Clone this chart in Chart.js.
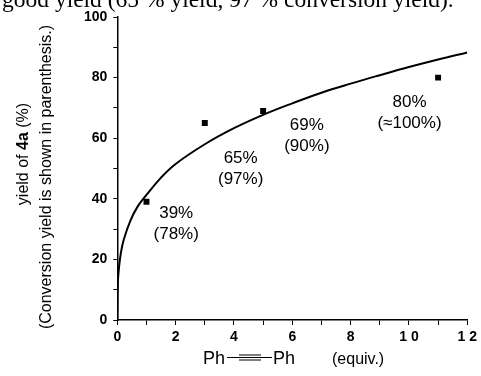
<!DOCTYPE html>
<html>
<head>
<meta charset="utf-8">
<script src="https://cdn.jsdelivr.net/npm/chart.js@4/dist/chart.umd.min.js"></script>
<style>
  html, body { margin: 0; padding: 0; background: #fff; }
  #wrap { width: 481px; height: 376px; position: relative; }
</style>
</head>
<body>
<div id="wrap"><canvas id="chart"></canvas></div>
<script>
// fitted curve
const curveX = [0, 0.02, 0.06, 0.12, 0.22, 0.45, 0.7, 1, 1.5, 2, 3, 4, 5, 6, 7, 8, 9, 10, 11, 12];
const curveY = [0, 12.5, 17.5, 22, 26.5, 32.8, 37.5, 41.3, 47, 51.5, 58, 63.3, 67.7, 71.5, 75, 78, 80.8, 83.5, 86, 88.3];

// measured yields of 4a
const equivX = [1, 3, 5, 11];
const yieldY = [39, 65, 69, 80];
const yieldLabels = ['39%', '65%', '69%', '80%'];
const conversionLabels = ['(78%)', '(97%)', '(90%)', '(\u2248100%)'];
// where each pair of labels sits, in data units
const labelX = [2.02, 4.23, 6.5, 10.02];
const labelY = [31.9, 50, 60.9, 68.3];

const xTicks = [0, 2, 4, 6, 8, 10, 12];
const yTicks = [0, 20, 40, 60, 80, 100];

const tickFont = { family: '"Liberation Sans", Arial, sans-serif', size: 14, weight: 'bold' };

const annotationPlugin = {
  id: 'annotations',
  afterDatasetsDraw(chart) {
    const ctx = chart.ctx;
    const xs = chart.scales.x;
    const ys = chart.scales.y;
    ctx.save();
    ctx.fillStyle = '#000';
    ctx.textAlign = 'center';
    ctx.textBaseline = 'middle';
    ctx.font = '17px "Liberation Sans", Arial, sans-serif';
    labelX.forEach((lx, i) => {
      const px = xs.getPixelForValue(lx);
      const py = ys.getPixelForValue(labelY[i]);
      ctx.fillText(yieldLabels[i], px, py - 10.5);
      ctx.fillText(conversionLabels[i], px, py + 10.5);
    });
    ctx.restore();
  }
};

const textPlugin = {
  id: 'extraText',
  afterDraw(chart) {
    const ctx = chart.ctx;
    ctx.save();
    ctx.fillStyle = '#000';
    ctx.strokeStyle = '#000';

    // cut-off line of body text above the figure
    ctx.font = '23.5px "Liberation Serif", "Times New Roman", serif';
    ctx.textAlign = 'left';
    ctx.textBaseline = 'alphabetic';
    ctx.fillText('good yield (65 % yield, 97 % conversion yield).', 2, 7, 452);

    // y axis title, two rotated lines
    const normal = '16px "Liberation Sans", Arial, sans-serif';
    const bold = 'bold 16px "Liberation Sans", Arial, sans-serif';
    const parts = [['yield of ', normal], ['4a', bold], [' (%)', normal]];
    ctx.save();
    ctx.translate(24, 154);
    ctx.rotate(-Math.PI / 2);
    ctx.textBaseline = 'middle';
    let total = 0;
    parts.forEach(([t, f]) => { ctx.font = f; total += ctx.measureText(t).width; });
    let cx = -total / 2;
    parts.forEach(([t, f]) => {
      ctx.font = f;
      ctx.fillText(t, cx, 0);
      cx += ctx.measureText(t).width;
    });
    ctx.restore();

    ctx.save();
    ctx.translate(47, 177);
    ctx.rotate(-Math.PI / 2);
    ctx.font = normal;
    ctx.textAlign = 'center';
    ctx.textBaseline = 'middle';
    ctx.fillText('(Conversion yield is shown in parenthesis.)', 0, 0);
    ctx.restore();

    // x axis title: Ph-C≡C-Ph (equiv.)
    ctx.font = '18px "Liberation Sans", Arial, sans-serif';
    ctx.textAlign = 'left';
    ctx.textBaseline = 'alphabetic';
    ctx.fillText('Ph', 203, 364);
    ctx.fillText('Ph', 273, 364);
    ctx.lineWidth = 1;
    ctx.beginPath();
    ctx.moveTo(227, 357.5); ctx.lineTo(272, 357.5);
    ctx.moveTo(239, 355); ctx.lineTo(261, 355);
    ctx.moveTo(239, 360); ctx.lineTo(261, 360);
    ctx.stroke();
    ctx.font = '16px "Liberation Sans", Arial, sans-serif';
    ctx.fillText('(equiv.)', 332, 364);
    ctx.restore();
  }
};

const ctx = document.getElementById('chart').getContext('2d');
new Chart(ctx, {
  type: 'scatter',
  data: {
    datasets: [
      {
        type: 'line',
        label: 'fit',
        data: curveX.map((x, i) => ({ x, y: curveY[i] })),
        borderColor: '#000',
        borderWidth: 2,
        pointRadius: 0,
        tension: 0.4,
        fill: false,
      },
      {
        label: 'yield',
        data: equivX.map((x, i) => ({ x, y: yieldY[i] })),
        pointStyle: 'rect',
        pointRadius: 4.2,
        backgroundColor: '#000',
        borderColor: '#000',
        borderWidth: 0,
      },
    ],
  },
  options: {
    animation: false,
    responsive: true,
    maintainAspectRatio: false,
    layout: { padding: { left: 0, right: 10, top: 17, bottom: 0 } },
    plugins: {
      legend: { display: false },
      tooltip: { enabled: false },
      title: { display: false },
    },
    scales: {
      x: {
        type: 'linear',
        min: 0,
        max: 12,
        afterFit: (scale) => { scale.height = 56; },
        afterBuildTicks: (scale) => {
          scale.ticks = [];
          for (let v = 0; v <= 12; v++) scale.ticks.push({ value: v });
        },
        ticks: {
          color: '#000',
          font: tickFont,
          padding: 4,
          maxRotation: 0,
          autoSkip: false,
          callback: (v) => (xTicks.includes(v) ? String(v).split('').join(' ') : ''),
        },
        grid: { drawOnChartArea: false, drawTicks: true, tickLength: 5, color: '#000', lineWidth: 1 },
        border: { color: '#000', width: 1.5 },
      },
      y: {
        min: 0,
        max: 100,
        afterFit: (scale) => { scale.width = 117.3; },
        afterBuildTicks: (scale) => {
          scale.ticks = [];
          for (let v = 0; v <= 100; v += 10) scale.ticks.push({ value: v });
        },
        ticks: {
          color: '#000',
          font: tickFont,
          padding: 6,
          autoSkip: false,
          callback: (v) => (yTicks.includes(v) ? String(v) : ''),
        },
        grid: { drawOnChartArea: false, drawTicks: true, tickLength: 4, color: '#000', lineWidth: 1 },
        border: { color: '#000', width: 1.5 },
      },
    },
  },
  plugins: [annotationPlugin, textPlugin],
});
</script>
</body>
</html>
